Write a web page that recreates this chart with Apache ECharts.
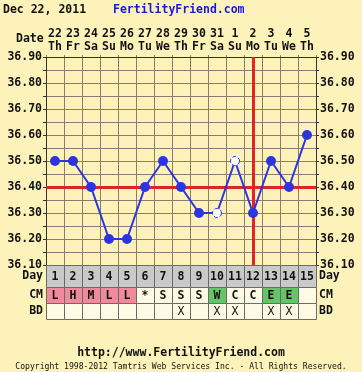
<!DOCTYPE html>
<html>
<head>
<meta charset="utf-8">
<script src="https://cdn.jsdelivr.net/npm/echarts@6/dist/echarts.min.js"></script>
<style>
html,body{margin:0;padding:0;background:#fdf2b9;}
#c{width:362px;height:372px;}
</style>
</head>
<body>
<div id="c"></div>
<script>
// ---- data ----
const dates = ['22','23','24','25','26','27','28','29','30','31','1','2','3','4','5'];
const weekdays = ['Th','Fr','Sa','Su','Mo','Tu','We','Th','Fr','Sa','Su','Mo','Tu','We','Th'];
const cycleDays = ['1','2','3','4','5','6','7','8','9','10','11','12','13','14','15'];
const temps = [36.50,36.50,36.40,36.20,36.20,36.40,36.50,36.40,36.30,36.30,36.50,36.30,36.50,36.40,36.60];
const openPoint = [false,false,false,false,false,false,false,false,false,true,true,false,false,false,false];
const cm = ['L','H','M','L','L','*','S','S','S','W','C','C','E','E',''];
const bd = ['','','','','','','','X','','X','X','','X','X',''];
const coverline = 36.40;
const ovulationDate = '2';
const yMin = 36.10, yMax = 36.90, yStep = 0.05;

// ---- styles ----
const FONT = 'DejaVu Sans Mono';
const BLUE = '#2b36e0';
const RED = '#e4222a';
const GRIDC = '#8c7d70';
const pink = ['L','H','M'];
const green = ['W','E'];

const chart = echarts.init(document.getElementById('c'), null, {renderer:'canvas'});

const L = 46, W = 270;
function yLabelFmt(v){
  const k = Math.round(v*100);
  return (k % 10 === 0) ? (k/100).toFixed(2) : '';
}
const valueY = (pos) => ({
  type:'value', gridIndex:0, position:pos, min:yMin, max:yMax, interval:yStep,
  axisLine:{show:true, lineStyle:{color:'#333', width:1}},
  axisTick:{show:true, length:3, lineStyle:{color:'#333'}},
  axisLabel:{formatter:yLabelFmt, margin:4, color:'#111', fontFamily:FONT, fontWeight:'bold', fontSize:11.5},
  splitLine:{show:true, lineStyle:{color:GRIDC, width:1}}
});

function tableRow(gi, yi, rowData, kind){
  return {
    type:'custom', xAxisIndex:gi, yAxisIndex:yi, silent:true,
    data: cycleDays.map((d,i)=>[i,0]),
    renderItem:function(params, api){
      const i = api.value(0);
      const c = api.coord([i,0]);
      const s = api.size([1,1]);
      const txt = rowData[i];
      let fill = '#fffae3';
      if (kind==='day') fill = '#c9c9c9';
      if (kind==='cm' && pink.indexOf(txt)>=0) fill = '#f0899a';
      if (kind==='cm' && green.indexOf(txt)>=0) fill = '#66c468';
      const x0 = Math.round(c[0]-s[0]/2)+0.5, y0 = Math.round(c[1]-s[1]/2)+0.5;
      return {type:'group', children:[
        {type:'rect', shape:{x:x0, y:y0, width:Math.round(s[0]), height:Math.round(s[1])},
         style:{fill:fill, stroke:'#6a6a6a', lineWidth:1}},
        {type:'text', style:{text:txt, x:c[0], y:c[1]+1, align:'center', verticalAlign:'middle',
          font:(kind==='bd'?'normal ':'bold ')+'11.5px "'+FONT+'"', fill:'#111'}}
      ]};
    }
  };
}

const rowLabelY = (gi, label, pos) => ({
  type:'category', gridIndex:gi, data:[label], position:pos,
  axisLine:{show:false}, axisTick:{show:false}, splitLine:{show:false},
  axisLabel:{margin:3, color:'#111', fontFamily:FONT, fontWeight:'bold', fontSize:11.5}
});
const rowX = (gi) => ({
  type:'category', gridIndex:gi, data:cycleDays, show:false
});

const option = {
  backgroundColor:'#fdf2b9',
  animation:false,
  grid:[
    {left:L, top:57, width:W, height:208},
    {left:L, top:265, width:W, height:22},
    {left:L, top:287, width:W, height:16},
    {left:L, top:303, width:W, height:16}
  ],
  graphic:[
    {type:'text', left:3, top:4, style:{text:'Dec 22, 2011', font:'bold 11.5px "'+FONT+'"', fill:'#111'}},
    {type:'text', left:113, top:4, style:{text:'FertilityFriend.com', font:'bold 11.5px "'+FONT+'"', fill:'#1a1ad2'}},
    {type:'text', left:16, top:33, style:{text:'Date', font:'bold 11.5px "'+FONT+'"', fill:'#111'}},
    {type:'text', left:'center', top:347, style:{text:'http://www.FertilityFriend.com', font:'bold 11.5px "'+FONT+'"', fill:'#111'}},
    {type:'text', left:'center', top:363, style:{text:'Copyright 1998-2012 Tamtris Web Services Inc. - All Rights Reserved.', font:'8.1px "'+FONT+'"', fill:'#111'}}
  ],
  xAxis:[
    {type:'category', gridIndex:0, data:dates, position:'top', boundaryGap:true,
     axisLine:{show:true, lineStyle:{color:'#333'}},
     axisTick:{show:true, length:2, interval:0, lineStyle:{color:GRIDC}},
     splitLine:{show:true, interval:0, lineStyle:{color:GRIDC}},
     axisLabel:{interval:0, margin:3, lineHeight:13, color:'#111', fontFamily:FONT, fontWeight:'bold', fontSize:11.5,
       formatter:function(v, i){ return v + '\n' + weekdays[i]; }}},
    rowX(1), rowX(2), rowX(3)
  ],
  yAxis:[
    valueY('left'), valueY('right'),
    rowLabelY(1,'Day','left'), rowLabelY(1,'Day','right'),
    rowLabelY(2,'CM','left'), rowLabelY(2,'CM','right'),
    rowLabelY(3,'BD','left'), rowLabelY(3,'BD','right')
  ],
  series:[
    {type:'line', xAxisIndex:0, yAxisIndex:0, silent:true,
     data: temps.map((t,i)=> openPoint[i]
        ? {value:t, symbolSize:9, itemStyle:{color:'#ffffff', borderColor:BLUE, borderWidth:1, borderType:'dashed'}}
        : {value:t}),
     symbol:'circle', symbolSize:10,
     lineStyle:{color:BLUE, width:2},
     itemStyle:{color:BLUE},
     z:5,
     markLine:{silent:true, symbol:'none', label:{show:false}, z:3,
       lineStyle:{color:RED, width:3, type:'solid'},
       data:[{xAxis:ovulationDate}, {yAxis:coverline}]}
    },
    tableRow(1, 2, cycleDays, 'day'),
    tableRow(2, 4, cm, 'cm'),
    tableRow(3, 6, bd, 'bd')
  ]
};
chart.setOption(option);
</script>
</body>
</html>
